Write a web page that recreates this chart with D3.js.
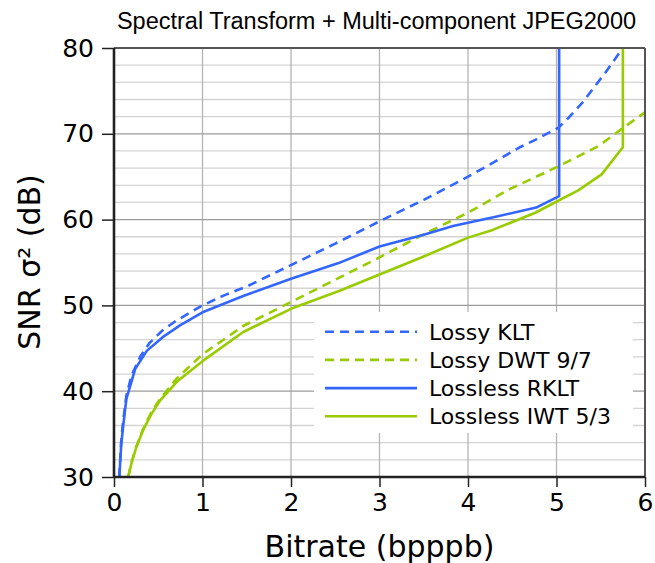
<!DOCTYPE html>
<html>
<head>
<meta charset="utf-8">
<script src="https://cdn.jsdelivr.net/npm/d3@7"></script>
<style>
  html, body { margin: 0; padding: 0; background: #fff; }
  svg { display: block; }
</style>
</head>
<body>
<svg id="chart" width="655" height="563"></svg>
<script>
// ---- data ----
const xTicks = [0, 1, 2, 3, 4, 5, 6];
const yTicks = [30, 40, 50, 60, 70, 80];
const yMinorTicks = [32, 34, 36, 38, 42, 44, 46, 48, 52, 54, 56, 58, 62, 64, 66, 68, 72, 74, 76, 78];

const seriesNames = ["Lossy KLT", "Lossy DWT 9/7", "Lossless RKLT", "Lossless IWT 5/3"];

const lossyKLT = [
  [0.06,30],[0.08,34],[0.1,36.2],[0.14,39.5],[0.2,41.9],[0.3,44.1],[0.4,45.6],[0.55,47.1],
  [0.7,48.2],[1.0,50.0],[1.25,51.2],[1.5,52.2],[2.0,54.7],[2.5,57.2],[3.0,59.8],[3.5,62.3],
  [4.0,65.0],[4.28,66.6],[4.58,68.4],[4.76,69.3],[5.02,70.7],[5.14,71.9],[5.29,73.6],[5.55,77.1],[5.75,80]
];
const lossyDWT = [
  [0.16,30],[0.2,31.8],[0.25,33.5],[0.33,35.6],[0.42,37.5],[0.52,39.1],[0.71,41.5],[1.0,44.3],
  [1.46,47.6],[2.0,50.4],[2.5,53.0],[3.0,55.6],[3.5,58.3],[4.0,60.8],[4.46,63.5],[5.02,66.2],
  [5.48,68.6],[5.74,70.6],[6.0,72.5]
];
const losslessRKLT = [
  [0.06,30],[0.08,33.5],[0.1,35.6],[0.14,39.1],[0.24,42.6],[0.37,44.7],[0.55,46.3],[0.75,47.7],
  [1.0,49.2],[1.46,51.1],[2.0,53.1],[2.53,54.9],[3.0,56.86],[3.49,58.2],[3.83,59.26],[4.3,60.3],
  [4.77,61.4],[5.03,62.74],[5.03,80]
];
const losslessIWT = [
  [0.16,30],[0.2,31.7],[0.25,33.4],[0.33,35.5],[0.42,37.3],[0.52,38.9],[0.71,41.1],[1.0,43.5],
  [1.46,46.9],[2.0,49.6],[2.55,51.7],[3.0,53.6],[3.5,55.7],[4.0,57.9],[4.28,58.8],[4.76,60.8],
  [5.25,63.44],[5.51,65.27],[5.75,68.44],[5.75,80]
];

// ---- styles ----
const BLUE = "#3366ff", GREEN = "#99cc00";
const series = [
  { name: seriesNames[0], data: lossyKLT, color: BLUE, dash: "9,6" },
  { name: seriesNames[1], data: lossyDWT, color: GREEN, dash: "9,6" },
  { name: seriesNames[2], data: losslessRKLT, color: BLUE, dash: null },
  { name: seriesNames[3], data: losslessIWT, color: GREEN, dash: null }
];

const svg = d3.select("#chart");
const L = 114, R = 645, T = 48, B = 477;
const x = d3.scaleLinear().domain([0, 6]).range([L, R]);
const y = d3.scaleLinear().domain([30, 80]).range([B, T]);

const font = "'DejaVu Sans', sans-serif";

// title
svg.append("text")
  .attr("x", 376.5).attr("y", 29)
  .attr("text-anchor", "middle")
  .attr("font-family", "'Liberation Sans', Arial, sans-serif")
  .attr("font-size", 23.5)
  .attr("fill", "#000")
  .text("Spectral Transform + Multi-component JPEG2000");

// grid
const grid = svg.append("g");
grid.selectAll("line.minor").data(yMinorTicks).enter().append("line")
  .attr("x1", L).attr("x2", R).attr("y1", d => y(d)).attr("y2", d => y(d))
  .attr("stroke", "#d4d4d4").attr("stroke-width", 1.3);
grid.selectAll("line.vx").data(xTicks.slice(1, -1)).enter().append("line")
  .attr("y1", T).attr("y2", B).attr("x1", d => x(d)).attr("x2", d => x(d))
  .attr("stroke", "#b4b4b4").attr("stroke-width", 1.3);
grid.selectAll("line.major").data(yTicks.slice(1, -1)).enter().append("line")
  .attr("x1", L).attr("x2", R).attr("y1", d => y(d)).attr("y2", d => y(d))
  .attr("stroke", "#9c9c9c").attr("stroke-width", 1.3);

// clip
svg.append("clipPath").attr("id", "clip").append("rect")
  .attr("x", L).attr("y", T).attr("width", R - L).attr("height", B - T);

const line = d3.line().x(d => x(d[0])).y(d => y(d[1]));
const curves = svg.append("g").attr("clip-path", "url(#clip)");
series.forEach(s => {
  curves.append("path").datum(s.data)
    .attr("d", line)
    .attr("fill", "none")
    .attr("stroke", s.color)
    .attr("stroke-width", 2.6)
    .attr("stroke-dasharray", s.dash)
    .attr("stroke-linejoin", "round");
});

// legend
const lg = svg.append("g");
lg.append("rect").attr("x", 314).attr("y", 312).attr("width", 319).attr("height", 121).attr("fill", "#fff");
series.forEach((s, i) => {
  const yy = 331.7 + i * 28.2;
  lg.append("line").attr("x1", 325).attr("x2", 417).attr("y1", yy).attr("y2", yy)
    .attr("stroke", s.color).attr("stroke-width", 2.6).attr("stroke-dasharray", s.dash);
  lg.append("text").attr("x", 429).attr("y", yy + 7.8)
    .attr("font-family", font).attr("font-size", 22).attr("fill", "#000")
    .text(s.name);
});

// frame
svg.append("line").attr("x1", L).attr("x2", R).attr("y1", T).attr("y2", T)
  .attr("stroke", "#555").attr("stroke-width", 2);
svg.append("line").attr("x1", R).attr("x2", R).attr("y1", T).attr("y2", B)
  .attr("stroke", "#555").attr("stroke-width", 2);

// axes
const xAxis = d3.axisBottom(x).tickValues(xTicks).tickSize(10).tickPadding(6).tickFormat(d3.format("d"));
const yAxis = d3.axisLeft(y).tickValues(yTicks).tickSize(12).tickPadding(8).tickFormat(d3.format("d"));

const gx = svg.append("g").attr("transform", `translate(0,${B})`).call(xAxis);
const gy = svg.append("g").attr("transform", `translate(${L},0)`).call(yAxis);
[gx, gy].forEach(g => {
  g.select(".domain").attr("stroke", "#222").attr("stroke-width", 2.6);
  g.selectAll(".tick line").attr("stroke", "#222").attr("stroke-width", 1.5);
  g.selectAll(".tick text").attr("font-family", font).attr("font-size", 25).attr("fill", "#000");
});
gx.select(".domain").attr("d", `M${L},0H${R}`);
gy.select(".domain").attr("d", `M0,${T}V${B}`);

// axis titles
svg.append("text")
  .attr("x", (L + R) / 2).attr("y", 557)
  .attr("text-anchor", "middle")
  .attr("font-family", font).attr("font-size", 30).attr("fill", "#000")
  .text("Bitrate (bpppb)");
svg.append("text")
  .attr("transform", `translate(40,${262}) rotate(-90)`)
  .attr("text-anchor", "middle")
  .attr("font-family", font).attr("font-size", 30).attr("fill", "#000")
  .text("SNR σ² (dB)");
</script>
</body>
</html>
